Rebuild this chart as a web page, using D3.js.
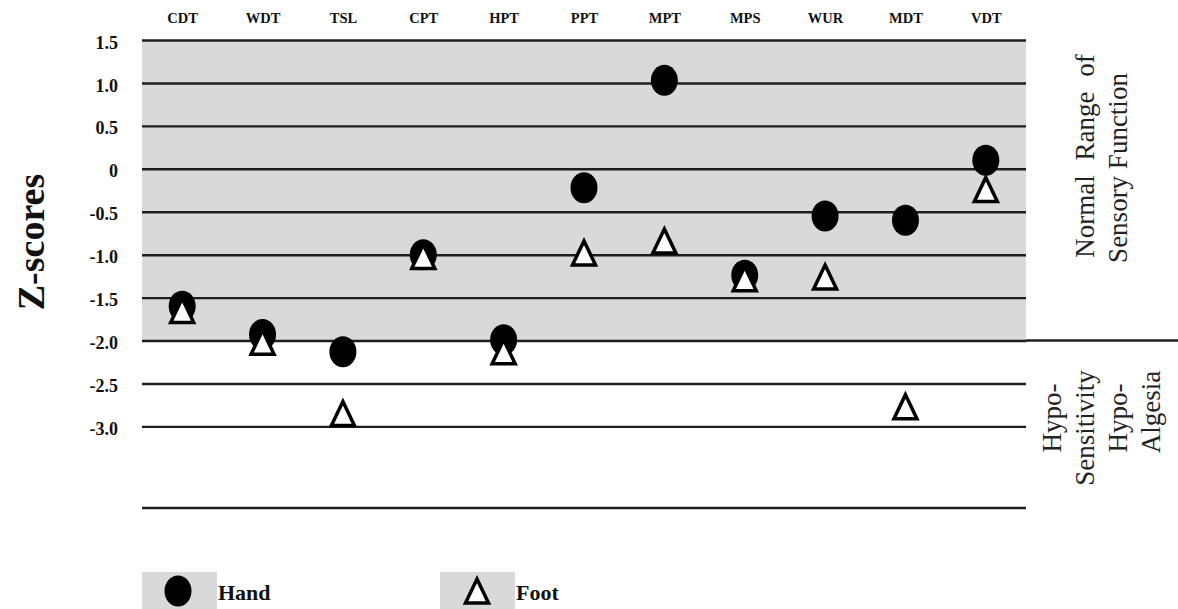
<!DOCTYPE html>
<html>
<head>
<meta charset="utf-8">
<script src="https://cdn.jsdelivr.net/npm/d3@7"></script>
<style>
  body { margin: 0; background: #fff; }
  text { font-family: "Liberation Serif", "Times New Roman", serif; }
</style>
</head>
<body>
<svg id="chart"></svg>
<script>
// tests along the top
var categories = ["CDT","WDT","TSL","CPT","HPT","PPT","MPT","MPS","WUR","MDT","VDT"];
// z-scores
var handValues = [-1.6, -1.93, -2.13, -1.0, -1.99, -0.22, 1.03, -1.24, -0.55, -0.6, 0.1];
var footValues = [-1.65, -2.02, -2.85, -1.02, -2.13, -0.98, -0.84, -1.28, -1.26, -2.77, -0.24];
var yTicks = [1.5, 1.0, 0.5, 0, -0.5, -1.0, -1.5, -2.0, -2.5, -3.0];

var svgWidth = 1178, svgHeight = 609;
var plotLeft = 142, plotRight = 1026, plotTop = 40, plotBottom = 508;

var svg = d3.select('#chart')
    .attr('width', svgWidth)
    .attr('height', svgHeight);

var x = d3.scalePoint()
    .domain(categories)
    .range([plotLeft, plotRight])
    .padding(0.5);

var y = d3.scaleLinear()
    .domain([-3.95, 1.5])
    .range([plotBottom, plotTop]);

// normal range shading
svg.append('rect')
    .attr('x', plotLeft)
    .attr('y', y(1.5))
    .attr('width', plotRight - plotLeft)
    .attr('height', y(-2.0) - y(1.5))
    .attr('fill', '#d9d9d9');

// gridlines + labels
var yAxis = d3.axisLeft(y)
    .tickValues(yTicks)
    .tickSize(-(plotRight - plotLeft))
    .tickPadding(24)
    .tickFormat(function(d) { return d === 0 ? "0" : d.toFixed(1); });

var gy = svg.append('g')
    .attr('transform', 'translate(' + plotLeft + ',0)')
    .call(yAxis);
gy.select('.domain').remove();
gy.selectAll('line').attr('stroke', '#1e1e1e').attr('stroke-width', 2.4);
gy.selectAll('text')
    .attr('font-size', 18)
    .attr('font-weight', 'bold')
    .attr('fill', '#111')
    .attr('dy', '0.45em')
    .style('font-family', '"Liberation Serif", serif');

// -2.0 line runs out to the right edge
svg.append('line')
    .attr('x1', plotRight).attr('x2', svgWidth)
    .attr('y1', y(-2.0)).attr('y2', y(-2.0))
    .attr('stroke', '#1e1e1e').attr('stroke-width', 2.4);

// bottom line
svg.append('line')
    .attr('x1', plotLeft).attr('x2', plotRight)
    .attr('y1', y(-3.95)).attr('y2', y(-3.95))
    .attr('stroke', '#1e1e1e').attr('stroke-width', 2.4);

// category labels on top
var xAxis = d3.axisTop(x).tickSize(0).tickPadding(0);
var gx = svg.append('g')
    .attr('transform', 'translate(0,18)')
    .call(xAxis);
gx.select('.domain').remove();
gx.selectAll('text')
    .attr('font-size', 14.5)
    .attr('font-weight', 'bold')
    .attr('fill', '#111')
    .attr('dy', '0.35em')
    .style('font-family', '"Liberation Serif", serif');

// hand - black ellipses
svg.selectAll('.hand')
    .data(handValues)
    .enter()
    .append('ellipse')
    .attr('class', 'hand')
    .attr('cx', function(d, i) { return x(categories[i]); })
    .attr('cy', function(d) { return y(d); })
    .attr('rx', 13.5)
    .attr('ry', 15.5)
    .attr('fill', '#000');

// foot - open triangles
var tri = "M0,-12 L11.5,12 L-11.5,12 Z";
svg.selectAll('.foot')
    .data(footValues)
    .enter()
    .append('path')
    .attr('class', 'foot')
    .attr('d', tri)
    .attr('transform', function(d, i) {
        return 'translate(' + x(categories[i]) + ',' + y(d) + ')';
    })
    .attr('fill', '#fff')
    .attr('stroke', '#000')
    .attr('stroke-width', 3.5)
    .attr('stroke-linejoin', 'miter');

// y title
svg.append('text')
    .attr('transform', 'translate(44,242) rotate(-90)')
    .attr('text-anchor', 'middle')
    .attr('font-size', 38)
    .attr('font-weight', 'bold')
    .attr('fill', '#111')
    .text('Z-scores');

// right side annotations
var rightText = function(str, xPos, yPos, ws) {
    svg.append('text')
        .attr('transform', 'translate(' + xPos + ',' + yPos + ') rotate(-90)')
        .attr('text-anchor', 'middle')
        .attr('font-size', 27)
        .attr('fill', '#222')
        .style('word-spacing', (ws || 0) + 'px')
        .text(str);
};
rightText('Normal Range of', 1094, 156, 8);
rightText('Sensory Function', 1127, 168, 0);
rightText('Hypo-', 1061, 418);
rightText('Sensitivity', 1094, 428);
rightText('Hypo-', 1127, 418);
rightText('Algesia', 1160, 412);

// legend
var legend = svg.append('g');
legend.append('rect').attr('x', 142).attr('y', 572).attr('width', 75).attr('height', 40).attr('fill', '#d9d9d9');
legend.append('rect').attr('x', 440).attr('y', 572).attr('width', 75).attr('height', 40).attr('fill', '#d9d9d9');
legend.append('ellipse').attr('cx', 178).attr('cy', 591).attr('rx', 13.5).attr('ry', 15.5).attr('fill', '#000');
legend.append('path').attr('d', tri)
    .attr('transform', 'translate(477,591)')
    .attr('fill', '#fff').attr('stroke', '#000').attr('stroke-width', 3.5);
legend.append('text').attr('x', 218).attr('y', 600)
    .attr('font-size', 22).attr('font-weight', 'bold').attr('fill', '#111').text('Hand');
legend.append('text').attr('x', 516).attr('y', 600)
    .attr('font-size', 22).attr('font-weight', 'bold').attr('fill', '#111').text('Foot');
</script>
</body>
</html>
